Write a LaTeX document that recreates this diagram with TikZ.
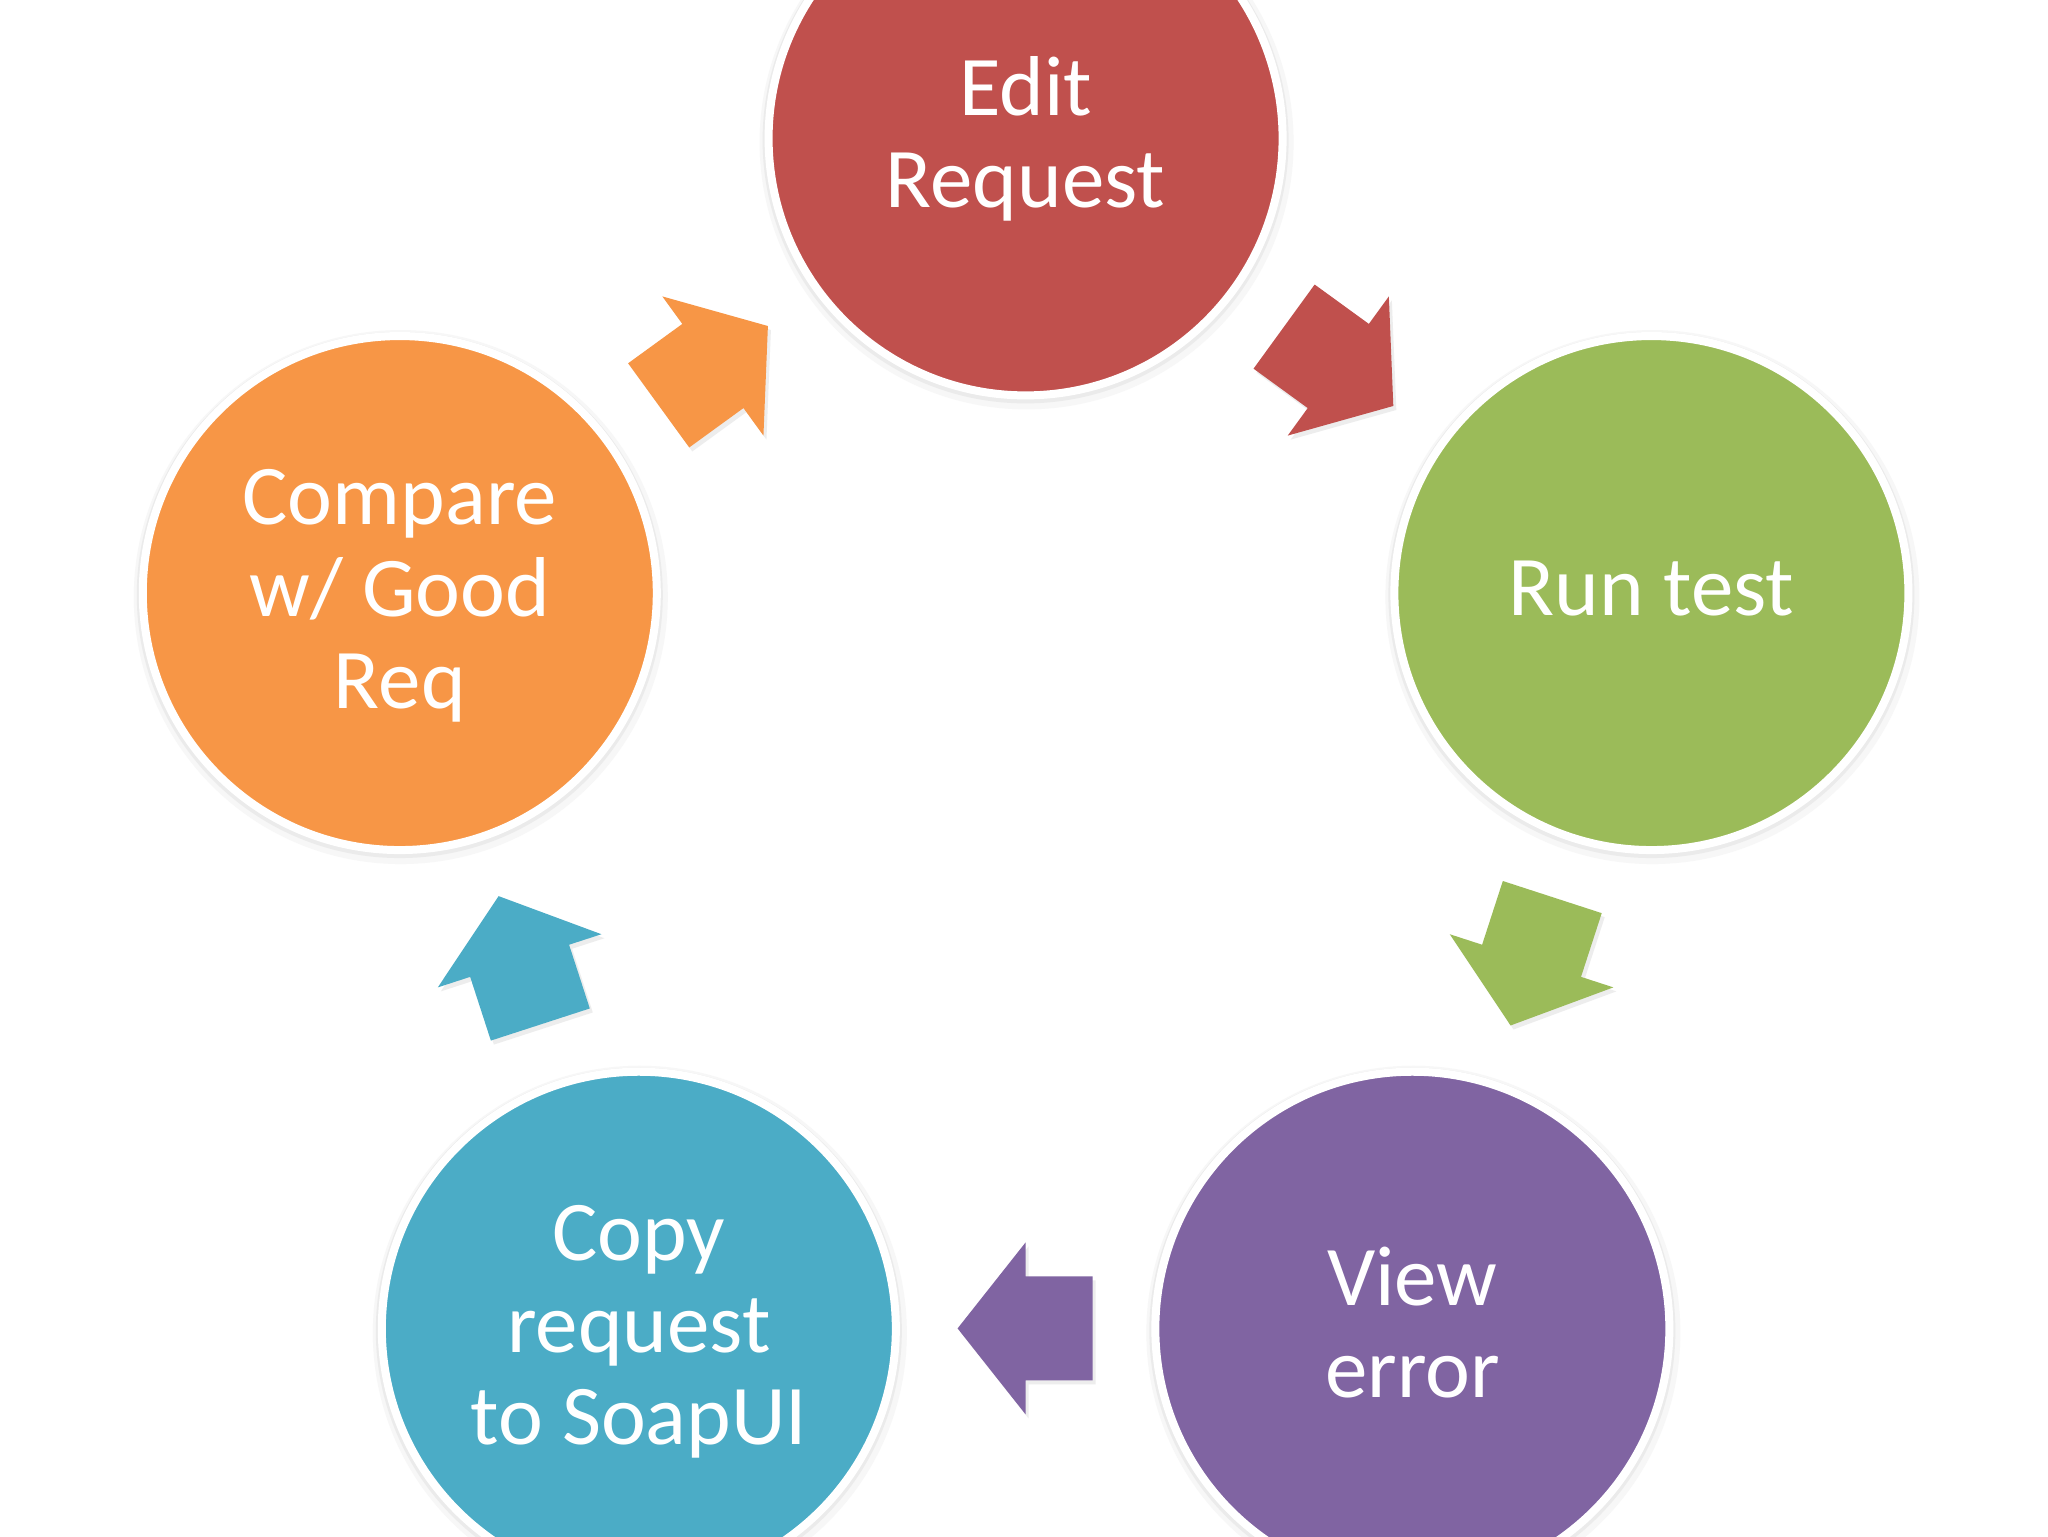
\documentclass[tikz,border=0pt]{standalone}
\usepackage{fontspec}
\setmainfont{Carlito}
\usetikzlibrary{calc}
\definecolor{cRed}{HTML}{C0504D}
\definecolor{cGreen}{HTML}{9BBB59}
\definecolor{cPurple}{HTML}{8064A2}
\definecolor{cBlue}{HTML}{4BACC6}
\definecolor{cOrange}{HTML}{F79646}
\newcommand\blockarr[3]{%
  \begin{scope}[shift={($(#1:532)+(3,-4)$)},rotate=#2]
    \fill[black!7] (-67,52) -- (0,52) -- (0,86) -- (68,0) -- (0,-86) -- (0,-52) -- (-67,-52) -- cycle;
  \end{scope}
  \begin{scope}[shift={(#1:532)},rotate=#2]
    \fill[#3] (-67,52) -- (0,52) -- (0,86) -- (68,0) -- (0,-86) -- (0,-52) -- (-67,-52) -- cycle;
  \end{scope}}
\newcommand\stageshadow[1]{%
  \fill[black!3] (#1:658) ++(1,-4) circle (267);
  \fill[black!8] (#1:658) ++(0,-2) circle (263);}
\begin{document}
\begin{tikzpicture}[x=0.5pt,y=0.5pt,
  stage/.style={circle, minimum size=257pt, inner sep=0pt, draw=white, line width=4pt},
  lbl/.style={text=white, font=\fontsize{42.5pt}{46pt}\selectfont, align=center, anchor=base, inner sep=0pt}]
\useasboundingbox[fill=white] (-1025.6,-739.6) rectangle (1022.4,796.4);
% shadows
\stageshadow{90}
\stageshadow{18}
\stageshadow{-54}
\stageshadow{-126}
\stageshadow{162}
% stages
\node[stage, fill=cRed]    (edit)    at (90:658)   {};
\node[stage, fill=cGreen]  (run)     at (18:658)   {};
\node[stage, fill=cPurple] (view)    at (-54:658)  {};
\node[stage, fill=cBlue]   (copy)    at (-126:658) {};
\node[stage, fill=cOrange] (compare) at (162:658)  {};
% labels (anchor base = baseline of last line)
\node[lbl] (editT)    at ($(edit)+(0,-69)$)     {Edit\\Request};
\node[lbl] (runT)     at ($(run)+(0,-22)$)      {Run test};
\node[lbl] (viewT)    at ($(view)+(0,-69)$)     {View\\error};
\node[lbl] (copyT)    at ($(copy)+(0,-116)$)    {Copy\\request\\to SoapUI};
\node[lbl] (compareT) at ($(compare)+(0,-115)$) {Compare\\w/ Good\\Req};
% block arrows
\blockarr{54}{-36}{cRed}
\blockarr{-18}{-108}{cGreen}
\blockarr{-90}{-180}{cPurple}
\blockarr{-162}{108}{cBlue}
\blockarr{126}{36}{cOrange}
\end{tikzpicture}
\end{document}
